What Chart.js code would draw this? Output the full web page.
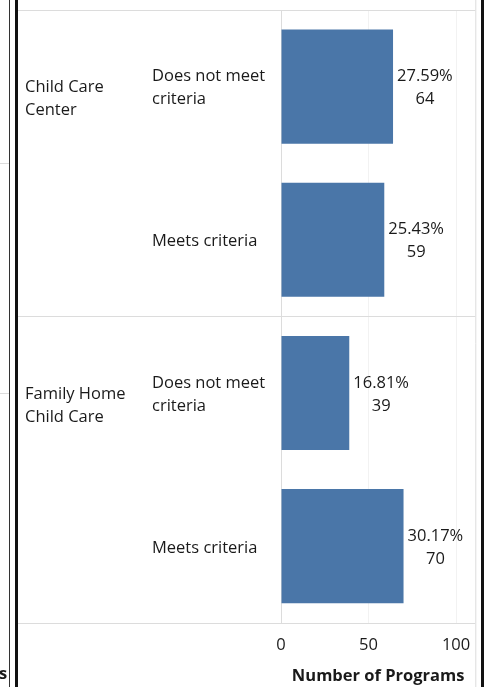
<!DOCTYPE html>
<html>
<head>
<meta charset="utf-8">
<script src="https://cdn.jsdelivr.net/npm/chart.js@4.4.1/dist/chart.umd.min.js"></script>
<style>
html,body{margin:0;padding:0;background:#fff;}
#wrap{width:484px;height:687px;position:relative;}
</style>
</head>
<body>
<div id="wrap"><canvas id="c" width="484" height="687"></canvas></div>
<script>
const groups = ["Child Care\nCenter", "Family Home\nChild Care"];
const categories = ["Does not meet\ncriteria", "Meets criteria", "Does not meet\ncriteria", "Meets criteria"];
const categoryGroup = [0, 0, 1, 1];
const programCounts = [64, 59, 39, 70];
const percentLabels = ["27.59%", "25.43%", "16.81%", "30.17%"];
const xTicks = [0, 50, 100];
const axisTitle = "Number of Programs";

const FONT = '"Open Sans", sans-serif';
const TEXT = '#1a1a1a';
const FS = 16.5;

const decor = {
  id: 'decor',
  afterDraw(chart) {
    const ctx = chart.ctx;
    const xs = chart.scales.x, ys = chart.scales.y;
    const area = chart.chartArea;
    ctx.save();
    ctx.strokeStyle = '#dcdcdc';
    ctx.lineWidth = 1;
    const hl = (y, x0, x1) => { ctx.beginPath(); ctx.moveTo(x0, y + 0.5); ctx.lineTo(x1, y + 0.5); ctx.stroke(); };
    hl(area.top, 18, area.right);
    const sep = (ys.getPixelForValue(1) + ys.getPixelForValue(2)) / 2;
    hl(Math.round(sep), 18, area.right);
    hl(Math.round(area.bottom), 18, area.right);
    ctx.beginPath(); ctx.moveTo(area.right + 0.5, 0); ctx.lineTo(area.right + 0.5, 687); ctx.stroke();
    hl(163, 0, 9); hl(393, 0, 9);
    ctx.fillStyle = '#333';
    ctx.fillRect(9, 0, 1, 687);
    ctx.fillStyle = '#111';
    ctx.fillRect(15, 0, 3, 687);
    ctx.fillRect(481, 0, 3, 687);

    ctx.fillStyle = TEXT;
    ctx.textBaseline = 'middle';
    ctx.font = FS + 'px ' + FONT;
    ctx.textAlign = 'left';
    groups.forEach((g, gi) => {
      const first = categoryGroup.indexOf(gi);
      const cy = ys.getPixelForValue(first);
      g.split('\n').forEach((ln, li) => ctx.fillText(ln, 25, cy + 1 + li * 23));
    });
    categories.forEach((c, i) => {
      const cy = ys.getPixelForValue(i);
      const lines = c.split('\n');
      if (lines.length === 1) ctx.fillText(lines[0], 152, cy + 2);
      else lines.forEach((ln, li) => ctx.fillText(ln, 152, cy - 10 + li * 23));
    });
    ctx.textAlign = 'center';
    programCounts.forEach((v, i) => {
      const cy = ys.getPixelForValue(i);
      const x0 = xs.getPixelForValue(v) + 4;
      const w = ctx.measureText(percentLabels[i]).width;
      ctx.fillText(percentLabels[i], x0 + w / 2, cy - 10);
      ctx.fillText(String(v), x0 + w / 2, cy + 13);
    });
    ctx.font = 'bold ' + FS + 'px ' + FONT;
    ctx.textAlign = 'left';
    ctx.fillText('s', -1, 674);
    ctx.restore();
  }
};

new Chart(document.getElementById('c'), {
  type: 'bar',
  data: {
    labels: categories,
    datasets: [{
      data: programCounts,
      backgroundColor: '#4A76A8',
      borderWidth: 0,
      barPercentage: 0.745,
      categoryPercentage: 1.0
    }]
  },
  options: {
    indexAxis: 'y',
    responsive: false,
    animation: false,
    devicePixelRatio: 1,
    layout: { padding: { left: 281, right: 8, top: 10, bottom: 2 } },
    plugins: { legend: { display: false }, tooltip: { enabled: false } },
    scales: {
      y: { display: false },
      x: {
        min: 0, max: 111,
        afterBuildTicks(scale) { scale.ticks = xTicks.map(v => ({ value: v })); },
        border: { display: false },
        grid: {
          drawTicks: false,
          color: ctx => ctx.tick && ctx.tick.value === 0 ? '#dcdcdc' : '#f2f2f2'
        },
        ticks: { padding: 13, color: TEXT, font: { family: FONT, size: FS }, maxRotation: 0 },
        title: { display: true, text: axisTitle, color: TEXT, font: { family: FONT, size: FS, weight: 'bold', lineHeight: 1.0 }, padding: { top: 0, bottom: 0 } }
      }
    }
  },
  plugins: [decor]
});
</script>
</body>
</html>
